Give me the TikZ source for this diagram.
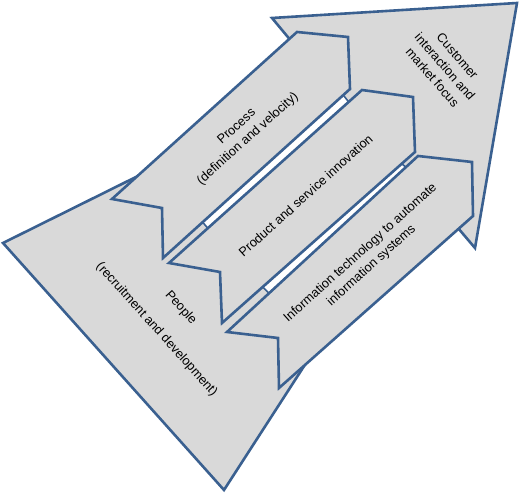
\documentclass[tikz,border=0pt]{standalone}
\usepackage{fontspec}
\setmainfont{Liberation Sans}
\usetikzlibrary{calc}
\definecolor{edgeblue}{RGB}{58,96,144}
\definecolor{panelgray}{RGB}{217,217,217}

\begin{document}
\begin{tikzpicture}[x=1pt,y=-1pt,
  arrowbox/.style={draw=edgeblue,fill=panelgray,line width=2.6pt},
  gapstrip/.style={draw=edgeblue,fill=white,line width=1.6pt},
  txt/.style={align=center,font=\fontsize{12.8}{16.5}\selectfont}]
\useasboundingbox (0,0) rectangle (520,494);
% the big arrow
\coordinate (b1) at (3,243);
\coordinate (b2) at (140,175);
\coordinate (b3) at (292,42);
\coordinate (b4) at (272,18);
\coordinate (b5) at (517,3);
\coordinate (b6) at (475,248);
\coordinate (b7) at (458,228);
\coordinate (b8) at (308,360);
\coordinate (b9) at (224,490);
% process arrow
\coordinate (pr1) at (112,199);
\coordinate (pr2) at (162,208);
\coordinate (pr3) at (163,258);
\coordinate (pr4) at (350,89);
\coordinate (pr5) at (348,37);
\coordinate (pr6) at (297,32);
% product arrow
\coordinate (pd1) at (169,263);
\coordinate (pd2) at (220,272);
\coordinate (pd3) at (222,323);
\coordinate (pd4) at (415,152);
\coordinate (pd5) at (413,97);
\coordinate (pd6) at (362,90);
% information technology arrow
\coordinate (it1) at (227,332);
\coordinate (it2) at (278,338);
\coordinate (it3) at (279,388);
\coordinate (it4) at (473,216);
\coordinate (it5) at (472,162);
\coordinate (it6) at (418,156);

% the gray background arrow
\draw[arrowbox] (b1) -- (b2) -- (b3) -- (b4) -- (b5) -- (b6) -- (b7) -- (b8) -- (b9) -- cycle;
% the white gaps between the arrows
\draw[gapstrip] ($(pr3)!0.212!(pr4)$) -- ($(pr3)!0.964!(pr4)$) -- ($(pd1)!0.931!(pd6)$) -- ($(pd1)!0.201!(pd6)$) -- cycle;
\draw[gapstrip] ($(pd3)!0.211!(pd4)$) -- ($(pd3)!0.931!(pd4)$) -- ($(it1)!0.937!(it6)$) -- ($(it1)!0.22!(it6)$) -- cycle;
% the three inner arrows
\foreach \a in {pr,pd,it}
{
\draw[arrowbox] (\a1) -- (\a2) -- (\a3) -- (\a4) -- (\a5) -- (\a6) -- cycle;
}
% labels
\node[txt,rotate=42] (process) at (242.5,133) {Process\\(definition and velocity)};
\node[txt,rotate=42] (product) at (305.5,195.5) {Product and service innovation};
\node[txt,rotate=42] (infotech) at (366,259.5) {Information technology to automate\\information systems};
\node[txt,rotate=-48] (people) at (168.7,318.6) {People\\[16pt](recruitment and development)};
\node[txt,rotate=-49] (customer) at (445,66.7) {Customer\\interaction and\\market focus};
\end{tikzpicture}
\end{document}
